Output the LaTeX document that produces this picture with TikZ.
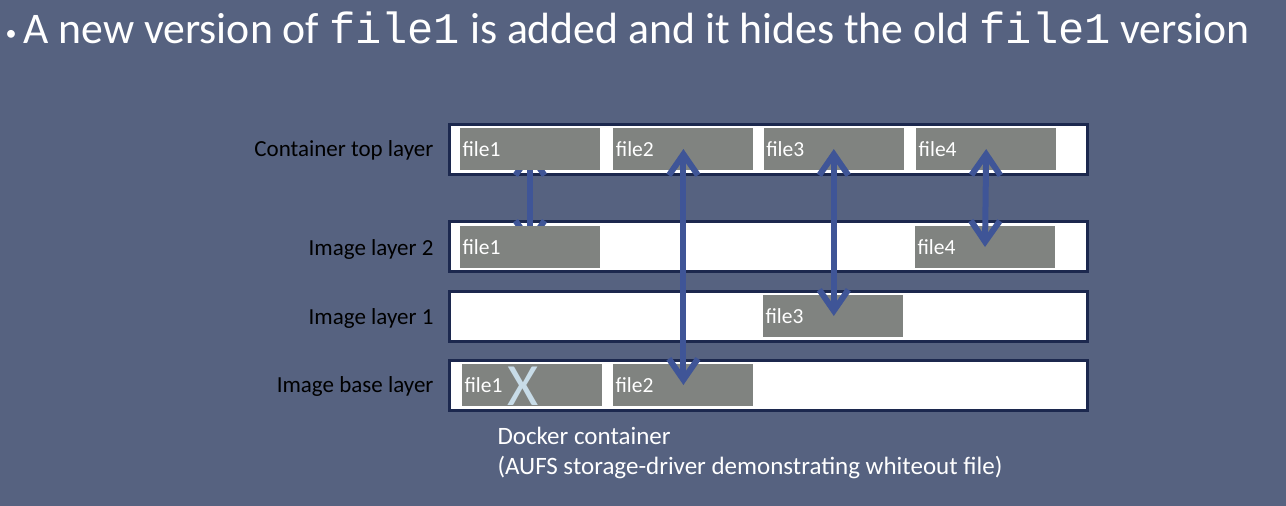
\documentclass[tikz,border=0pt]{standalone}
\usepackage{fontspec}
\setmainfont{Carlito}
\setmonofont{Liberation Mono}
\usetikzlibrary{positioning, arrows.meta}
\definecolor{slide}{RGB}{86,98,128}
\definecolor{layerline}{RGB}{28,40,78}
\definecolor{filegray}{RGB}{128,131,128}
\definecolor{linkblue}{RGB}{63,85,151}
\definecolor{whiteout}{RGB}{200,220,232}
\pgfdeclarelayer{slidebg}
\pgfdeclarelayer{strips}
\pgfdeclarelayer{under}
\pgfsetlayers{slidebg,strips,under,main}

\tikzset{
  layer/.style={draw=layerline, line width=3pt, fill=white, minimum width=638pt, minimum height=50pt, inner sep=0pt},
  layername/.style={anchor=east, font=\fontsize{23}{27}\selectfont, text=black},
  filebox/.style={fill=filegray, minimum width=140pt, minimum height=42pt, text width=135pt, inner xsep=2.5pt, inner ysep=0pt, align=left, text=white, font=\fontsize{21.5}{24}\selectfont},
  link/.style={draw=linkblue, line width=6pt, {Straight Barb[length=21pt,width=29pt]}-{Straight Barb[length=21pt,width=29pt]}}
}

\begin{document}
\begin{tikzpicture}[x=1pt, y=-1pt]
\useasboundingbox (0,0) rectangle (1286,506);
\begin{pgfonlayer}{slidebg}
\fill[slide] (0,0) rectangle (1286,506);
\end{pgfonlayer}

\node[anchor=base west, text=white, font=\fontsize{43.7}{48}\selectfont] (title) at (2,43)
  {\raisebox{3pt}{\fontsize{22}{24}\selectfont\textbullet}\hspace{7pt}A new version of \texttt{file1} is added and it hides the old \texttt{file1} version};

% layers
\begin{pgfonlayer}{strips}
\node[layer] (top) at (768,149) {};
\node[layer] (img2) at (768,246) {};
\node[layer] (img1) at (768,316) {};
\node[layer] (base) at (768,385) {};
\end{pgfonlayer}

\node[layername] at (437,150) {Container top layer};
\node[layername] at (437,249) {Image layer 2};
\node[layername] at (437,318) {Image layer 1};
\node[layername] at (437,386) {Image base layer};

% files
\node[filebox] (top1) at (530,149) {file1};
\node[filebox, right=13pt of top1] (top2) {file2};
\node[filebox, right=10pt of top2] (top3) {file3};
\node[filebox, right=12pt of top3] (top4) {file4};

\node[filebox] (img2f1) at (530,247) {file1};
\node[filebox] (img2f4) at (985,247) {file4};

\node[filebox] (img1f3) at (833,316) {file3};

\node[filebox] (base1) at (532,385) {file1};
\node[filebox] (base2) at (683,385) {file2};
\node[text=whiteout, font=\fontsize{60}{60}\selectfont, inner sep=0pt] (gone) at (523,386) {X};

% links between versions
\begin{pgfonlayer}{under}
\draw[link] (top1.center) -- (img2f1.center);
\end{pgfonlayer}
\draw[link] (top2.center) -- (top2.center |- base2.center);
\draw[link] (top3.center) -- (top3.center |- img1f3.center);
\draw[link] (top4.center) -- (img2f4.center);

\node[anchor=north west, align=left, text=white, font=\fontsize{25}{30}\selectfont] (caption) at (494,424)
  {Docker container\\(AUFS storage-driver demonstrating whiteout file)};
\end{tikzpicture}
\end{document}
